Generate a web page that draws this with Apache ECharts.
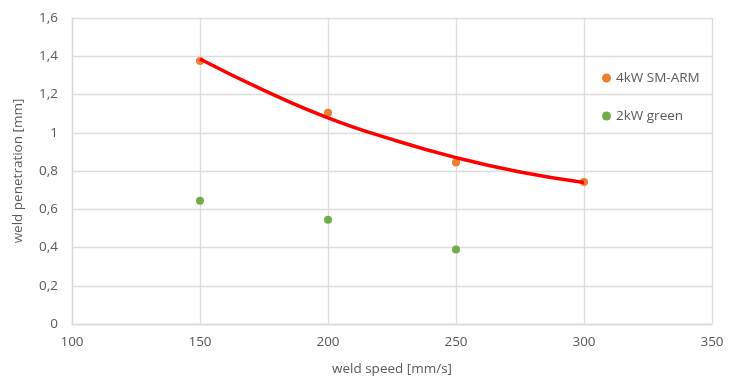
<!DOCTYPE html>
<html><head><meta charset="utf-8">
<script src="https://cdn.jsdelivr.net/npm/echarts@6/dist/echarts.min.js"></script>
<style>html,body{margin:0;padding:0;background:#fff}#c{width:734px;height:388px}</style>
</head><body><div id="c"></div>
<script>
const speeds4kW = [150, 200, 250, 300];
const pen4kW = [1.375, 1.105, 0.845, 0.742];
const speeds2kW = [150, 200, 250];
const pen2kW = [0.645, 0.545, 0.39];
const trendSpeeds = [150, 175, 200, 225, 250, 275, 300];
const trendPen = [1.386, 1.222, 1.078, 0.965, 0.870, 0.795, 0.740];
const yTickLabels = ['0', '0,2', '0,4', '0,6', '0,8', '1', '1,2', '1,4', '1,6'];
const xTickLabels = ['100', '150', '200', '250', '300', '350'];

const font = '"Open Sans", "Liberation Sans", sans-serif';
const grey = '#595959';
const chart = echarts.init(document.getElementById('c'));
chart.setOption({
  animation: false,
  backgroundColor: '#fff',
  grid: {left: 72, right: 22, top: 18, bottom: 64},
  legend: {
    orient: 'vertical', left: 597, top: 66, itemGap: 24,
    icon: 'circle', itemWidth: 9, itemHeight: 9,
    textStyle: {color: grey, fontSize: 13.5, fontFamily: font},
    data: ['4kW SM-ARM', '2kW green']
  },
  xAxis: {
    type: 'value', min: 100, max: 350, interval: 50,
    name: 'weld speed [mm/s]', nameLocation: 'middle', nameGap: 38,
    nameTextStyle: {color: grey, fontSize: 13.5, fontFamily: font},
    axisLine: {show: true, lineStyle: {color: '#d9d9d9', width: 1.3}},
    axisTick: {show: false},
    axisLabel: {color: grey, fontSize: 13.5, fontFamily: font, margin: 11,
      formatter: (v) => xTickLabels[Math.round((v - 100) / 50)]},
    splitLine: {show: true, lineStyle: {color: '#dcdcdc', width: 1.3}}
  },
  yAxis: {
    type: 'value', min: 0, max: 1.6, interval: 0.2,
    name: 'weld penetration [mm]', nameLocation: 'middle', nameGap: 47,
    nameTextStyle: {color: grey, fontSize: 13.5, fontFamily: font},
    axisLine: {show: true, lineStyle: {color: '#d9d9d9', width: 1.3}},
    axisTick: {show: false},
    axisLabel: {color: grey, fontSize: 13.5, fontFamily: font, margin: 14,
      formatter: (v) => yTickLabels[Math.round(v / 0.2)]},
    splitLine: {show: true, lineStyle: {color: '#dcdcdc', width: 1.3}}
  },
  series: [
    {
      name: 'trend', type: 'line', smooth: true, showSymbol: false,
      data: trendSpeeds.map((x, i) => [x, trendPen[i]]),
      lineStyle: {color: '#ff0000', width: 3.5}, z: 3
    },
    {
      name: '4kW SM-ARM', type: 'scatter', symbolSize: 8,
      itemStyle: {color: '#ED7D31', opacity: 1},
      data: speeds4kW.map((x, i) => [x, pen4kW[i]]), z: 2
    },
    {
      name: '2kW green', type: 'scatter', symbolSize: 8,
      itemStyle: {color: '#70AD47', opacity: 1},
      data: speeds2kW.map((x, i) => [x, pen2kW[i]]), z: 2
    }
  ]
});
</script></body></html>
